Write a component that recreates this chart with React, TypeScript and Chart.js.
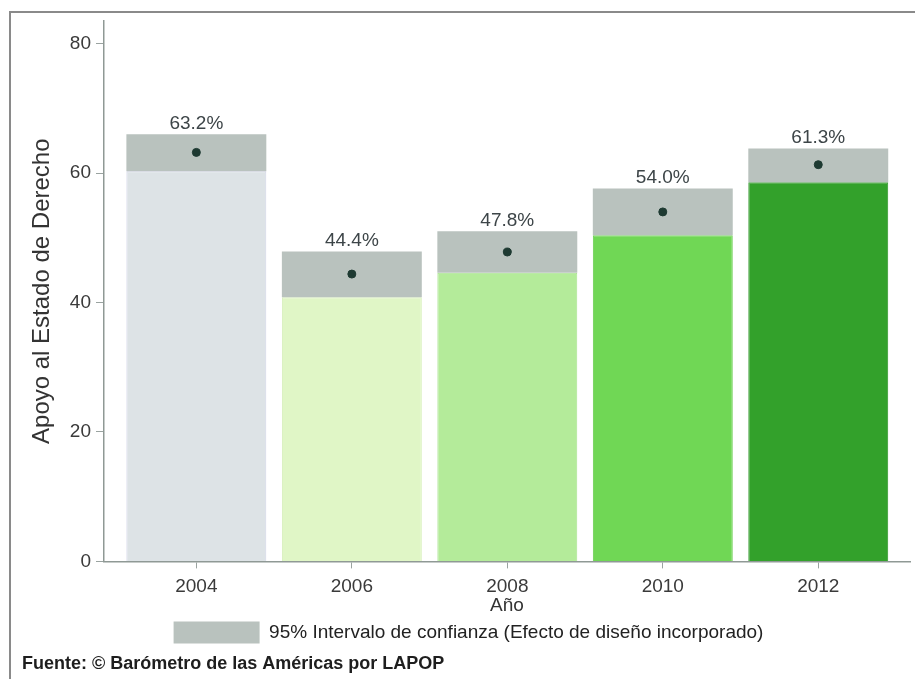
import React, { useEffect, useRef } from "react";
import { Chart, registerables } from "chart.js";

Chart.register(...registerables);

const years = ["2004", "2006", "2008", "2010", "2012"];
const means = [63.2, 44.4, 47.8, 54.0, 61.3];
const ciLower = [60.3, 40.8, 44.6, 50.4, 58.6];
const ciUpper = [66.0, 47.9, 51.0, 57.6, 63.8];
const barColors = ["#dde3e6", "#e0f6c6", "#b4eb9a", "#70d755", "#33a12b"];
const barBorders = ["#cfd2e6", "#d6efb8", "#a8e28e", "#66cc4c", "#2b9424"];
const yTicks = [0, 20, 40, 60, 80];
const yTitle = "Apoyo al Estado de Derecho";
const xTitle = "Año";
const ciLabel = "95% Intervalo de confianza (Efecto de diseño incorporado)";
const sourceText = "Fuente: © Barómetro de las Américas por LAPOP";

const FONT = "'Liberation Sans', Arial, sans-serif";

const framePlugin = {
  id: "frame",
  beforeDraw(chart: any) {
    const ctx = chart.ctx;
    ctx.save();
    ctx.fillStyle = "#ffffff";
    ctx.fillRect(0, 0, chart.width, chart.height);
    ctx.strokeStyle = "#8a8a8a";
    ctx.lineWidth = 2;
    ctx.beginPath();
    ctx.moveTo(10, chart.height);
    ctx.lineTo(10, 12);
    ctx.lineTo(chart.width, 12);
    ctx.stroke();
    ctx.restore();
  },
};

const valueLabelPlugin = {
  id: "valueLabels",
  afterDatasetsDraw(chart: any) {
    const ctx = chart.ctx;
    const xs = chart.scales.x;
    const ys = chart.scales.y;
    ctx.save();
    ctx.font = "19px " + FONT;
    ctx.fillStyle = "#3d4548";
    ctx.textAlign = "center";
    ctx.textBaseline = "bottom";
    means.forEach((m, i) => {
      ctx.fillText(m.toFixed(1) + "%", xs.getPixelForValue(i), ys.getPixelForValue(ciUpper[i]) - 1);
    });
    ctx.restore();
  },
};

export default function App() {
  const ref = useRef<HTMLCanvasElement>(null);
  useEffect(() => {
    if (!ref.current) return;
    const chart = new Chart(ref.current, {
      type: "bar",
      data: {
        datasets: [
          {
            type: "scatter",
            label: "Media",
            data: means.map((m, i) => ({ x: i, y: m })),
            backgroundColor: "#1e3a32",
            borderColor: "#1e3a32",
            pointRadius: 4,
            order: 0,
          } as any,
          {
            label: ciLabel,
            data: ciUpper.map((u, i) => ({ x: i, y: [ciLower[i], u] })),
            backgroundColor: "#b9c2be",
            borderWidth: 0,
            grouped: false,
            categoryPercentage: 0.9,
            barPercentage: 1,
            order: 1,
          } as any,
          {
            label: "Barras",
            data: ciLower.map((l, i) => ({ x: i, y: l })),
            backgroundColor: barColors,
            borderColor: barBorders,
            borderWidth: 1,
            grouped: false,
            categoryPercentage: 0.9,
            barPercentage: 1,
            order: 2,
          } as any,
        ],
      },
      options: {
        animation: false,
        responsive: false,
        maintainAspectRatio: false,
        layout: { padding: { left: 22, top: 21, right: 0, bottom: 0 } },
        scales: {
          x: {
            type: "linear",
            offset: false,
            min: -0.594,
            max: 4.59,
            afterBuildTicks: (s: any) => {
              s.ticks = years.map((_, i) => ({ value: i }));
            },
            afterFit: (s: any) => {
              s.height = 56;
            },
            ticks: {
              callback: (v: any) => years[v] ?? "",
              font: { size: 19, family: FONT },
              color: "#3a3a3a",
              padding: 7,
              autoSkip: false,
              maxRotation: 0,
            },
            grid: { display: true, offset: false, drawOnChartArea: false, drawTicks: true, tickLength: 7, color: "#9aa3a0" },
            border: { display: true, color: "#8f9995", width: 1.5 },
            title: {
              display: true,
              text: xTitle,
              font: { size: 19, family: FONT },
              color: "#333",
              padding: { top: 0, bottom: 0 },
            },
          },
          y: {
            type: "linear",
            min: 0,
            max: 83.5,
            afterBuildTicks: (s: any) => {
              s.ticks = yTicks.map((v) => ({ value: v }));
            },
            afterFit: (s: any) => {
              s.width = 82;
            },
            ticks: {
              font: { size: 19, family: FONT },
              color: "#3a3a3a",
              padding: 5,
            },
            grid: { display: true, drawOnChartArea: false, drawTicks: true, tickLength: 8, color: "#9aa3a0" },
            border: { display: true, color: "#8f9995", width: 1.5 },
            title: {
              display: true,
              text: yTitle,
              font: { size: 24, family: FONT },
              color: "#333",
              padding: { top: 6, bottom: 0 },
            },
          },
        },
        plugins: {
          legend: {
            display: true,
            position: "bottom",
            labels: {
              filter: (item: any) => item.text === ciLabel,
              boxWidth: 86,
              boxHeight: 22,
              color: "#222",
              padding: 4,
              font: { size: 19, family: FONT },
            },
          },
          title: {
            display: true,
            text: sourceText,
            position: "bottom",
            align: "start",
            color: "#1e1e1e",
            font: { size: 18, weight: "bold", family: FONT },
            padding: { top: 0, bottom: 4 },
          },
          tooltip: { enabled: false },
        },
      },
      plugins: [framePlugin, valueLabelPlugin],
    } as any);
    return () => chart.destroy();
  }, []);
  return (
    <div style={{ position: "fixed", left: 0, top: 0, width: 915, height: 679 }}>
      <canvas ref={ref} width={915} height={679} style={{ width: 915, height: 679, display: "block" }} />
    </div>
  );
}
